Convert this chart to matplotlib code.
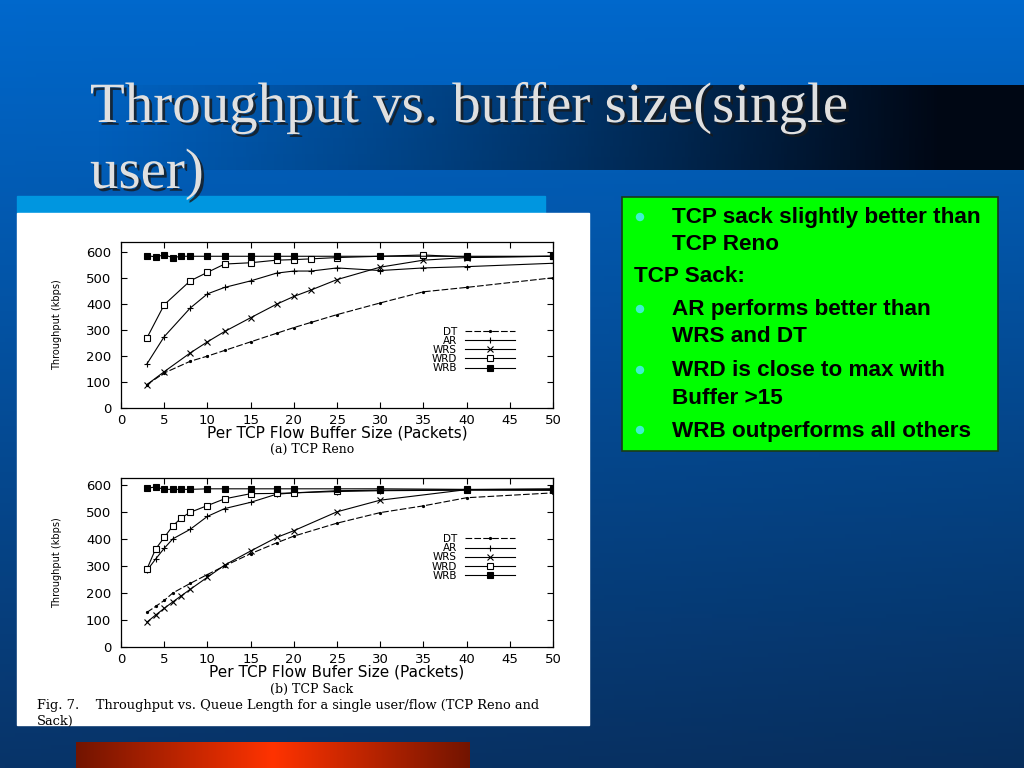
import numpy as np
import matplotlib
matplotlib.use("Agg")
import matplotlib.pyplot as plt
import matplotlib.patheffects as pe

# 数据：TCP Reno
reno_x_wrb = [3, 4, 5, 6, 7, 8, 10, 12, 15, 18, 20, 25, 30, 40, 50]
reno_wrb = [587, 583, 590, 580, 585, 585, 585, 585, 585, 585, 585, 585, 585, 585, 585]
reno_x_wrd = [3, 5, 8, 10, 12, 15, 18, 20, 22, 25, 35, 40, 50]
reno_wrd = [270, 398, 490, 523, 555, 560, 570, 572, 575, 580, 590, 582, 585]
reno_x = [3, 5, 8, 10, 12, 15, 18, 20, 22, 25, 30, 35, 40, 50]
reno_ar = [170, 275, 385, 440, 465, 490, 520, 528, 528, 540, 530, 540, 545, 558]
reno_wrs = [90, 140, 212, 255, 295, 348, 400, 430, 455, 495, 543, 570, 580, 585]
reno_dt = [90, 135, 180, 200, 222, 255, 288, 310, 330, 360, 405, 448, 465, 502]

# 数据：TCP Sack
sack_x_wrb = [3, 4, 5, 6, 7, 8, 10, 12, 15, 18, 20, 25, 30, 40, 50]
sack_wrb = [587, 592, 583, 583, 583, 583, 585, 585, 585, 585, 585, 585, 585, 583, 583]
sack_x_wrd = [3, 4, 5, 6, 7, 8, 10, 12, 15, 18, 20, 25, 30, 40, 50]
sack_wrd = [288, 362, 405, 448, 478, 498, 523, 548, 567, 568, 570, 578, 580, 582, 580]
sack_x_ar = [3, 4, 5, 6, 8, 10, 12, 15, 18, 20, 25, 30, 40, 50]
sack_ar = [283, 325, 365, 400, 435, 483, 512, 535, 565, 570, 575, 578, 580, 580]
sack_x_wrs = [3, 4, 5, 6, 7, 8, 10, 12, 15, 18, 20, 25, 30, 40, 50]
sack_wrs = [92, 118, 143, 167, 190, 213, 258, 303, 355, 405, 430, 500, 543, 582, 585]
sack_x_dt = [3, 4, 5, 6, 8, 10, 12, 15, 18, 20, 25, 30, 35, 40, 50]
sack_dt = [128, 150, 172, 200, 235, 268, 300, 345, 385, 410, 458, 497, 522, 552, 570]

# 右侧文字框（每行一条，None 表示无圆点）
box_lines = [("TCP sack slightly better than", True), ("TCP Reno", False),
             ("TCP Sack:", None),
             ("AR performs better than", True), ("WRS and DT", False),
             ("WRD is close to max with", True), ("Buffer >15", False),
             ("WRB outperforms all others", True)]

fig = plt.figure(figsize=(10.24, 7.68), dpi=100)

# 背景
bg = fig.add_axes([0, 0, 1, 1])
bg.set_xlim(0, 1024)
bg.set_ylim(768, 0)
bg.axis("off")
yy, xx = np.mgrid[0:1:200j, 0:1:200j]
top = np.array([0, 104, 204]) / 255
bot = np.array([8, 52, 105]) / 255
grad = top[None, None, :] * (1 - yy[..., None]) + bot[None, None, :] * yy[..., None]
grad = grad * (1 - 0.12 * xx[..., None] * yy[..., None])
bg.imshow(grad, extent=[0, 1024, 768, 0], aspect="auto", zorder=0)

# 标题暗条
band = np.zeros((2, 300, 4))
t = np.linspace(0, 1, 300)
band[..., 1] = 0.03
band[..., 2] = 0.08
band[..., 3] = np.clip(t * 1.1, 0, 1)[None, :] ** 1.2
bg.imshow(band, extent=[90, 1024, 170, 85], aspect="auto", zorder=1)

shadow = [pe.withSimplePatchShadow(offset=(2, -2), shadow_rgbFace="#1a1a1a", alpha=0.8)]
bg.text(90, 122, "Throughput vs. buffer size(single", family="Liberation Serif",
        fontsize=41, color="#e0e0e0", va="baseline", zorder=3, path_effects=shadow)
bg.text(90, 188, "user)", family="Liberation Serif",
        fontsize=41, color="#e0e0e0", va="baseline", zorder=3, path_effects=shadow)

# 浅蓝条、白色图片区、橙色条
bg.add_patch(plt.Rectangle((17, 196), 528, 17, color="#0096e0", zorder=2))
bg.add_patch(plt.Rectangle((17, 213), 572, 512, color="white", zorder=2))
orange = np.zeros((2, 200, 3))
ot = np.linspace(0, 1, 200)
shape = 1 - np.abs(ot - 0.5) * 2
orange[..., 0] = (0.45 + 0.55 * shape)[None, :]
orange[..., 1] = (0.08 + 0.12 * shape)[None, :]
bg.imshow(orange, extent=[76, 470, 768, 742], aspect="auto", zorder=2)

# 绿色文字框
bg.add_patch(plt.Rectangle((622, 197), 376, 254, facecolor="#00ff00",
                           edgecolor="#1a3a1a", lw=1.2, zorder=2))
ys = [218, 245, 277, 310, 337, 371, 398, 431]
for (txt, dot), y in zip(box_lines, ys):
    x = 634 if dot is None else 672
    if dot:
        bg.add_patch(plt.Circle((640, y - 1), 3.5, color="#40f0d0", zorder=3))
    bg.text(x, y, txt, fontsize=16.2, weight="bold", family="Liberation Sans",
            va="center", zorder=3, color="black")

# 图注
bg.text(312, 449, "(a) TCP Reno", family="DejaVu Serif", fontsize=9, ha="center", va="center", zorder=3)
bg.text(312, 689, "(b) TCP Sack", family="DejaVu Serif", fontsize=9, ha="center", va="center", zorder=3)
bg.text(37, 706, "Fig. 7.    Throughput vs. Queue Length for a single user/flow (TCP Reno and",
        family="DejaVu Serif", fontsize=9.4, va="center", zorder=3)
bg.text(37, 721, "Sack)", family="DejaVu Serif", fontsize=9.4, va="center", zorder=3)


def draw_panel(rect, ytop, data, xlabel, leg_y):
    ax = fig.add_axes(rect)
    ax.set_zorder(5)
    for (x, y, mk, ls, mfc, ms, lab) in data:
        ax.plot(x, y, color="black", lw=0.8, ls=ls, marker=mk, ms=ms,
                mfc=mfc, mec="black", mew=0.8, label=lab)
    ax.set_xlim(0, 50)
    ax.set_ylim(0, ytop)
    ax.set_xticks(range(0, 51, 5))
    ax.set_yticks(range(0, 601, 100))
    ax.tick_params(direction="in", top=True, right=True, labelsize=9.5, length=4, width=0.8)
    ax.tick_params(axis="x", pad=4)
    ax.tick_params(axis="y", pad=7)
    for s in ax.spines.values():
        s.set_linewidth(0.9)
    ax.set_xlabel(xlabel, fontsize=11, labelpad=-1)
    ax.set_ylabel("Throughput (kbps)", fontsize=7, labelpad=17)
    ax.legend(loc="center right", bbox_to_anchor=(0.925, leg_y), frameon=False, markerfirst=False,
              fontsize=7.5, handlelength=4.8, handletextpad=0.8, labelspacing=-0.08, borderpad=0)
    ax.patch.set_alpha(0)
    return ax


reno = [
    (reno_x, reno_dt, ".", (0, (6, 2)), "black", 3, "DT"),
    (reno_x, reno_ar, "+", "-", "black", 4, "AR"),
    (reno_x, reno_wrs, "x", "-", "black", 4, "WRS"),
    (reno_x_wrd, reno_wrd, "s", "-", "white", 4, "WRD"),
    (reno_x_wrb, reno_wrb, "s", "-", "black", 4, "WRB"),
]
sack = [
    (sack_x_dt, sack_dt, ".", (0, (6, 2)), "black", 3, "DT"),
    (sack_x_ar, sack_ar, "+", "-", "black", 4, "AR"),
    (sack_x_wrs, sack_wrs, "x", "-", "black", 4, "WRS"),
    (sack_x_wrd, sack_wrd, "s", "-", "white", 4, "WRD"),
    (sack_x_wrb, sack_wrb, "s", "-", "black", 4, "WRB"),
]

draw_panel([121 / 1024, (768 - 408) / 768, 432 / 1024, 166 / 768], 640, reno,
           "Per TCP Flow Buffer Size (Packets)", 0.35)
draw_panel([121 / 1024, (768 - 647) / 768, 432 / 1024, 169 / 768], 625, sack,
           "Per TCP Flow Bufer Size (Packets)", 0.53)

fig.savefig("out.png", dpi=100)
